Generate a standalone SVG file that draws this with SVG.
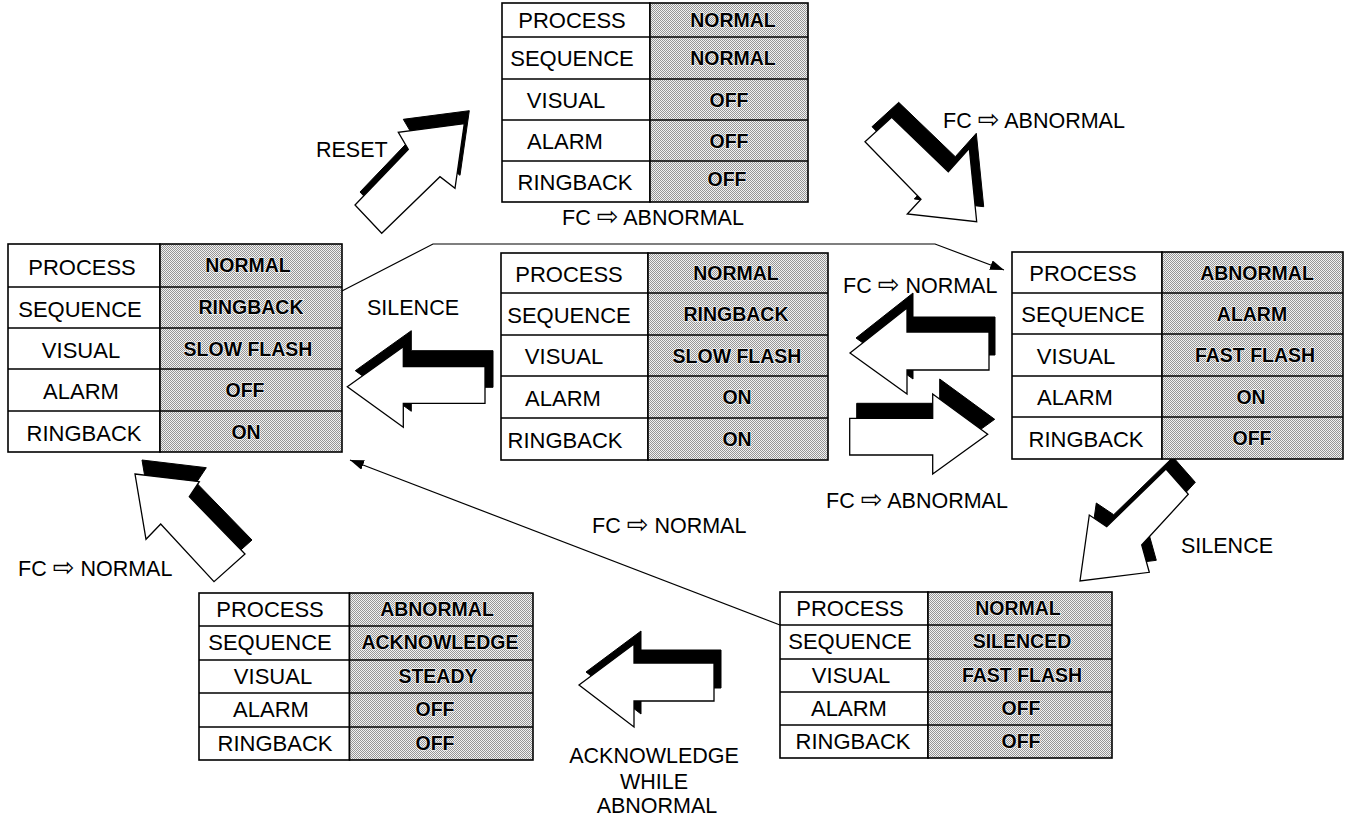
<svg xmlns="http://www.w3.org/2000/svg" xmlns:xlink="http://www.w3.org/1999/xlink" width="1351" height="820" viewBox="0 0 1351 820">
  <style>
    .cell { fill: #fff; stroke: #000; stroke-width: 1.6; }
    .shade { fill: url(#dither); stroke: #000; stroke-width: 1.6; }
    .grid { fill: none; stroke: #000; stroke-width: 1.4; }
    .lbl { font-family: "Liberation Sans", Arial, sans-serif; font-size: 22px; text-anchor: middle; fill: #000; }
    .val { font-family: "Liberation Sans", Arial, sans-serif; font-size: 19.5px; font-weight: bold; text-anchor: middle; fill: #000; stroke: #fff; stroke-width: 1.2px; paint-order: stroke; }
    .note { font-family: "Liberation Sans", Arial, "DejaVu Sans", sans-serif; font-size: 21.5px; fill: #000; }
    .glyph { font-family: "DejaVu Sans", sans-serif; font-size: 26px; }
    .arr { fill: #fff; stroke: #000; stroke-width: 1.3; stroke-linejoin: miter; }
    .sh { fill: #000; stroke: #000; stroke-width: 1; }
    .conn { fill: none; stroke: #000; stroke-width: 1.2; }
  </style>
  <defs>
    <pattern id="dither" width="2" height="2" patternUnits="userSpaceOnUse">
      <rect width="2" height="2" fill="#f2f2f2"/>
      <rect width="1" height="1" fill="#969696"/>
      <rect x="1" y="1" width="1" height="1" fill="#969696"/>
    </pattern>
    <marker id="head" markerUnits="userSpaceOnUse" markerWidth="15" markerHeight="11" refX="14" refY="5" orient="auto">
      <path d="M0,0 L14,5 L0,10 z" fill="#000"/>
    </marker>
    <!-- block arrow outlines -->
    <polygon id="arrow-reset" points="381.7,233.3 355,205 408.3,149.3 398.3,132.3 464.3,123.7 455,188.3 440,176.7"/>
    <polygon id="arrow-abn-top" points="865,141.7 891.7,117.3 948.3,171.7 969.3,148.3 976.7,221.7 907.3,214 921,199.3"/>
    <polygon id="arrow-silence-left" points="347.3,386.7 403.3,346.7 403.3,366.7 485,366.7 485,403.3 403.3,403.3 403.3,427.3"/>
    <polygon id="arrow-norm-right" points="850,353 907,308 907,332 989,332 989,370 907,370 907,394"/>
    <polygon id="arrow-abn-right" points="849.7,418.3 932.7,418.3 932.7,394 987.7,434.3 932.7,474 932.7,455 849.7,455"/>
    <polygon id="arrow-silence-down" points="1080,581 1089.3,515 1106.7,526.7 1166,469 1188.3,494.3 1141.7,545 1149.3,572.3"/>
    <polygon id="arrow-norm-left" points="135,474 199.3,481.7 189.3,496.7 245,554 214,581.7 160.7,524 146,539.3"/>
    <polygon id="arrow-ack" points="579,685 634,644 634,663 714,663 714,701 634,701 634,727"/>
  </defs>

  <rect width="1351" height="820" fill="#fff"/>

  <!-- thin transition lines -->
  <g id="connectors">
    <polyline class="conn" points="340,292 433,244 935,244 1004,270" marker-end="url(#head)"/>
    <line class="conn" x1="780" y1="625" x2="350" y2="460" marker-end="url(#head)"/>
  </g>

  <!-- extruded block arrows -->
  <g id="arrows">
    <g id="t-reset">
      <use xlink:href="#arrow-reset" class="sh" transform="translate(5,-13)"/>
      <use xlink:href="#arrow-reset" class="arr"/>
    </g>
    <g id="t-abnormal-top">
      <use xlink:href="#arrow-abn-top" class="sh" transform="translate(7,-15)"/>
      <use xlink:href="#arrow-abn-top" class="arr"/>
    </g>
    <g id="t-silence-left">
      <use xlink:href="#arrow-silence-left" class="sh" transform="translate(8,-16)"/>
      <use xlink:href="#arrow-silence-left" class="arr"/>
    </g>
    <g id="t-normal-right">
      <use xlink:href="#arrow-norm-right" class="sh" transform="translate(6,-15)"/>
      <use xlink:href="#arrow-norm-right" class="arr"/>
    </g>
    <g id="t-abnormal-right">
      <use xlink:href="#arrow-abn-right" class="sh" transform="translate(7,-15)"/>
      <use xlink:href="#arrow-abn-right" class="arr"/>
    </g>
    <g id="t-silence-down">
      <use xlink:href="#arrow-silence-down" class="sh" transform="translate(7,-12)"/>
      <use xlink:href="#arrow-silence-down" class="arr"/>
    </g>
    <g id="t-normal-left">
      <use xlink:href="#arrow-norm-left" class="sh" transform="translate(7,-14)"/>
      <use xlink:href="#arrow-norm-left" class="arr"/>
    </g>
    <g id="t-ack">
      <use xlink:href="#arrow-ack" class="sh" transform="translate(7,-13)"/>
      <use xlink:href="#arrow-ack" class="arr"/>
    </g>
  </g>

  <!-- transition labels -->
  <g id="labels">
    <text class="note" x="316" y="157">RESET</text>
    <text class="note" x="562" y="225">FC <tspan class="glyph">⇨</tspan> ABNORMAL</text>
    <text class="note" x="943" y="128">FC <tspan class="glyph">⇨</tspan> ABNORMAL</text>
    <text class="note" x="367" y="315">SILENCE</text>
    <text class="note" x="843" y="293">FC <tspan class="glyph">⇨</tspan> NORMAL</text>
    <text class="note" x="826" y="508">FC <tspan class="glyph">⇨</tspan> ABNORMAL</text>
    <text class="note" x="592" y="533">FC <tspan class="glyph">⇨</tspan> NORMAL</text>
    <text class="note" x="1181" y="553">SILENCE</text>
    <text class="note" x="18" y="576">FC <tspan class="glyph">⇨</tspan> NORMAL</text>
    <text class="note" text-anchor="middle">
      <tspan x="657" y="763">ACKNOWLEDGE</tspan>
      <tspan x="657" y="789">WHILE</tspan>
      <tspan x="657" y="813">ABNORMAL</tspan>
    </text>
  </g>

  <!-- state: normal -->
  <g id="state-normal">
    <rect class="cell" x="502" y="3" width="148" height="199"/>
    <rect class="shade" x="650" y="3" width="158" height="199"/>
    <path class="grid" d="M502 37H808M502 79H808M502 120H808M502 161H808"/>
    <text class="lbl" x="572" y="28">PROCESS</text>
    <text class="lbl" x="572" y="66">SEQUENCE</text>
    <text class="lbl" x="566" y="107.5">VISUAL</text>
    <text class="lbl" x="565" y="148.5">ALARM</text>
    <text class="lbl" x="575" y="189.5">RINGBACK</text>
    <text class="val" x="733" y="27">NORMAL</text>
    <text class="val" x="733" y="65">NORMAL</text>
    <text class="val" x="729" y="106.5">OFF</text>
    <text class="val" x="729" y="147.5">OFF</text>
    <text class="val" x="727" y="186">OFF</text>
  </g>

  <!-- state: ringback -->
  <g id="state-ringback">
    <rect class="cell" x="8" y="244" width="152" height="208"/>
    <rect class="shade" x="160" y="244" width="182" height="208"/>
    <path class="grid" d="M8 287H342M8 328H342M8 369H342M8 411H342"/>
    <text class="lbl" x="82" y="274.5">PROCESS</text>
    <text class="lbl" x="80" y="316.5">SEQUENCE</text>
    <text class="lbl" x="81" y="357.5">VISUAL</text>
    <text class="lbl" x="81" y="399">ALARM</text>
    <text class="lbl" x="84" y="440.5">RINGBACK</text>
    <text class="val" x="248" y="272">NORMAL</text>
    <text class="val" x="251" y="314">RINGBACK</text>
    <text class="val" x="248" y="355.5">SLOW FLASH</text>
    <text class="val" x="245" y="397">OFF</text>
    <text class="val" x="246" y="438.5">ON</text>
  </g>

  <!-- state: ringback, alarm on -->
  <g id="state-ringback-alarm">
    <rect class="cell" x="501" y="253" width="147" height="207"/>
    <rect class="shade" x="648" y="253" width="180" height="207"/>
    <path class="grid" d="M501 293H828M501 335H828M501 376H828M501 418H828"/>
    <text class="lbl" x="569" y="281.5">PROCESS</text>
    <text class="lbl" x="569" y="322.5">SEQUENCE</text>
    <text class="lbl" x="564" y="364">VISUAL</text>
    <text class="lbl" x="563" y="405.5">ALARM</text>
    <text class="lbl" x="565" y="447.5">RINGBACK</text>
    <text class="val" x="736" y="280">NORMAL</text>
    <text class="val" x="736" y="321">RINGBACK</text>
    <text class="val" x="737" y="362.5">SLOW FLASH</text>
    <text class="val" x="737" y="404">ON</text>
    <text class="val" x="737" y="446">ON</text>
  </g>

  <!-- state: alarm -->
  <g id="state-alarm">
    <rect class="cell" x="1012" y="252" width="150" height="207"/>
    <rect class="shade" x="1162" y="252" width="181" height="207"/>
    <path class="grid" d="M1012 293H1343M1012 334H1343M1012 376H1343M1012 417H1343"/>
    <text class="lbl" x="1083" y="281">PROCESS</text>
    <text class="lbl" x="1083" y="322">SEQUENCE</text>
    <text class="lbl" x="1076" y="363.5">VISUAL</text>
    <text class="lbl" x="1075" y="405">ALARM</text>
    <text class="lbl" x="1086" y="446.5">RINGBACK</text>
    <text class="val" x="1257" y="279.5">ABNORMAL</text>
    <text class="val" x="1252" y="320.5">ALARM</text>
    <text class="val" x="1255" y="362">FAST FLASH</text>
    <text class="val" x="1251" y="403.5">ON</text>
    <text class="val" x="1252" y="445">OFF</text>
  </g>

  <!-- state: acknowledged -->
  <g id="state-acknowledged">
    <rect class="cell" x="199" y="593" width="150.5" height="167"/>
    <rect class="shade" x="349.5" y="593" width="183.5" height="167"/>
    <path class="grid" d="M199 626H533M199 660H533M199 693H533M199 727H533"/>
    <text class="lbl" x="270" y="616.5">PROCESS</text>
    <text class="lbl" x="270" y="650">SEQUENCE</text>
    <text class="lbl" x="273" y="683.5">VISUAL</text>
    <text class="lbl" x="271" y="717">ALARM</text>
    <text class="lbl" x="275" y="750.5">RINGBACK</text>
    <text class="val" x="437" y="615.5">ABNORMAL</text>
    <text class="val" x="440" y="649">ACKNOWLEDGE</text>
    <text class="val" x="438" y="682.5">STEADY</text>
    <text class="val" x="435" y="716">OFF</text>
    <text class="val" x="435" y="749.5">OFF</text>
  </g>

  <!-- state: silenced -->
  <g id="state-silenced">
    <rect class="cell" x="780" y="592" width="148" height="166"/>
    <rect class="shade" x="928" y="592" width="184" height="166"/>
    <path class="grid" d="M780 625H1112M780 659H1112M780 692H1112M780 725H1112"/>
    <text class="lbl" x="850" y="615.5">PROCESS</text>
    <text class="lbl" x="850" y="649">SEQUENCE</text>
    <text class="lbl" x="851" y="682.5">VISUAL</text>
    <text class="lbl" x="849" y="715.5">ALARM</text>
    <text class="lbl" x="853" y="748.5">RINGBACK</text>
    <text class="val" x="1018" y="614.5">NORMAL</text>
    <text class="val" x="1022" y="648">SILENCED</text>
    <text class="val" x="1022" y="681.5">FAST FLASH</text>
    <text class="val" x="1021" y="714.5">OFF</text>
    <text class="val" x="1021" y="747.5">OFF</text>
  </g>
</svg>
